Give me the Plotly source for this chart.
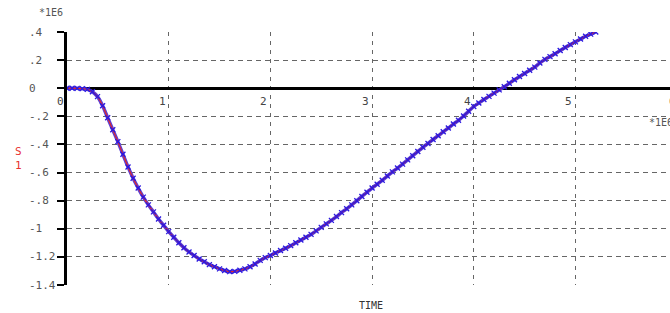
import plotly.graph_objects as go

# ---- data ----
TIME = [0.00, 0.05, 0.10, 0.15, 0.20, 0.25, 0.30, 0.35, 0.40, 0.45,
        0.50, 0.55, 0.60, 0.65, 0.70, 0.75, 0.80, 0.85, 0.90, 0.95,
        1.00, 1.05, 1.10, 1.15, 1.20, 1.25, 1.30, 1.35, 1.40, 1.45,
        1.50, 1.55, 1.60, 1.65, 1.70, 1.75, 1.80, 1.85, 1.90, 1.95,
        2.00, 2.05, 2.10, 2.15, 2.20, 2.25, 2.30, 2.35, 2.40, 2.45,
        2.50, 2.55, 2.60, 2.65, 2.70, 2.75, 2.80, 2.85, 2.90, 2.95,
        3.00, 3.05, 3.10, 3.15, 3.20, 3.25, 3.30, 3.35, 3.40, 3.45,
        3.50, 3.55, 3.60, 3.65, 3.70, 3.75, 3.80, 3.85, 3.90, 3.95,
        4.00, 4.05, 4.10, 4.15, 4.20, 4.25, 4.30, 4.35, 4.40, 4.45,
        4.50, 4.55, 4.60, 4.65, 4.70, 4.75, 4.80, 4.85, 4.90, 4.95,
        5.00, 5.05, 5.10, 5.15, 5.20]
S1 = [0.0, 0.0, -0.001, -0.003, -0.008, -0.025, -0.06, -0.125, -0.21, -0.295,
      -0.38, -0.47, -0.56, -0.64, -0.71, -0.775, -0.83, -0.88, -0.93, -0.975,
      -1.02, -1.06, -1.10, -1.135, -1.165, -1.19, -1.215, -1.235, -1.255, -1.27,
      -1.285, -1.297, -1.305, -1.303, -1.295, -1.285, -1.27, -1.25, -1.225, -1.205,
      -1.19, -1.172, -1.155, -1.138, -1.12, -1.10, -1.08, -1.06, -1.04, -1.015,
      -0.99, -0.965, -0.94, -0.913, -0.885, -0.858, -0.83, -0.80, -0.77, -0.74,
      -0.71, -0.683, -0.655, -0.625, -0.595, -0.568, -0.54, -0.51, -0.48, -0.45,
      -0.42, -0.393, -0.365, -0.338, -0.31, -0.283, -0.255, -0.228, -0.198, -0.164,
      -0.13, -0.105, -0.08, -0.058, -0.035, -0.012, 0.01, 0.035, 0.06, 0.083,
      0.105, 0.128, 0.15, 0.18, 0.205, 0.225, 0.245, 0.268, 0.29, 0.31,
      0.33, 0.35, 0.37, 0.385, 0.40]

Y_TICKS = [0.4, 0.2, 0.0, -0.2, -0.4, -0.6, -0.8, -1.0, -1.2, -1.4]
Y_LABELS = [".4", ".2", "0", "-.2", "-.4", "-.6", "-.8", "-1", "-1.2", "-1.4"]
X_TICKS = [0, 1, 2, 3, 4, 5]
X_LABELS = ["0", "1", "2", "3", "4", "5"]

MONO = "DejaVu Sans Mono"
GREY = "#555555"

fig = go.Figure()
# purple band
fig.add_trace(go.Scatter(x=TIME, y=S1, mode="lines",
                         line=dict(color="#5b3fd6", width=3.5, shape="spline"),
                         hoverinfo="skip", showlegend=False))
# red curve
fig.add_trace(go.Scatter(x=TIME, y=S1, mode="lines",
                         line=dict(color="#e02828", width=1.2, shape="spline"),
                         showlegend=False))
# blue markers
fig.add_trace(go.Scatter(x=TIME, y=S1, mode="markers",
                         marker=dict(symbol="x-thin", size=5,
                                     line=dict(color="#2a18e0", width=1.3)),
                         showlegend=False))

annotations = []
for v, t in zip(Y_TICKS, Y_LABELS):
    annotations.append(dict(xref="paper", yref="y", x=0, y=v, text=t,
                            xanchor="left", yanchor="middle", xshift=-40,
                            showarrow=False, font=dict(family=MONO, size=11, color=GREY)))
for v, t in zip(X_TICKS, X_LABELS):
    annotations.append(dict(xref="x", yref="y", x=v, y=0, text=t,
                            xanchor="right", yanchor="top", xshift=-1, yshift=-5,
                            showarrow=False, font=dict(family=MONO, size=11, color="#444444")))
# partially visible "6"
annotations.append(dict(xref="paper", yref="y", x=1, y=0, text="6",
                        xanchor="left", yanchor="top", xshift=-3, yshift=-5,
                        showarrow=False, font=dict(family=MONO, size=11, color="#444444")))
annotations += [
    dict(xref="paper", yref="paper", x=0, y=1, text="*1E6", xanchor="left", yanchor="middle",
         xshift=-30, yshift=20, showarrow=False, font=dict(family=MONO, size=10, color=GREY)),
    dict(xref="paper", yref="y", x=1, y=-0.245, text="*1E6", xanchor="left", yanchor="middle",
         xshift=-23, showarrow=False, font=dict(family=MONO, size=10, color=GREY)),
    dict(xref="paper", yref="paper", x=0, y=0.5, text="S<br>1", xanchor="left", yanchor="middle",
         xshift=-54, showarrow=False, align="left",
         font=dict(family=MONO, size=11, color="#e83030")),
    dict(xref="paper", yref="paper", x=0.5, y=0, text="TIME", xanchor="center", yanchor="top",
         xshift=2, yshift=-13, showarrow=False, font=dict(family=MONO, size=10, color="#333333")),
]

fig.update_layout(
    width=670, height=313,
    margin=dict(l=67, r=0, t=32, b=28),
    paper_bgcolor="white", plot_bgcolor="white",
    annotations=annotations,
    xaxis=dict(range=[0, 5.93], tickvals=X_TICKS, showticklabels=False,
               showgrid=True, gridcolor="#666666", gridwidth=1, griddash="4px,5px",
               zeroline=False, showline=False, ticks=""),
    yaxis=dict(range=[-1.4, 0.4], tickvals=Y_TICKS, showticklabels=False,
               showgrid=True, gridcolor="#666666", gridwidth=1, griddash="5px,4px",
               zeroline=True, zerolinecolor="black", zerolinewidth=3,
               showline=True, linecolor="black", linewidth=3,
               ticks="outside", ticklen=7, tickcolor="black", tickwidth=1.5),
)

fig.write_html("out.html", config={"displayModeBar": False},
               post_script="document.body.style.margin='0';document.body.style.overflow='hidden';")
